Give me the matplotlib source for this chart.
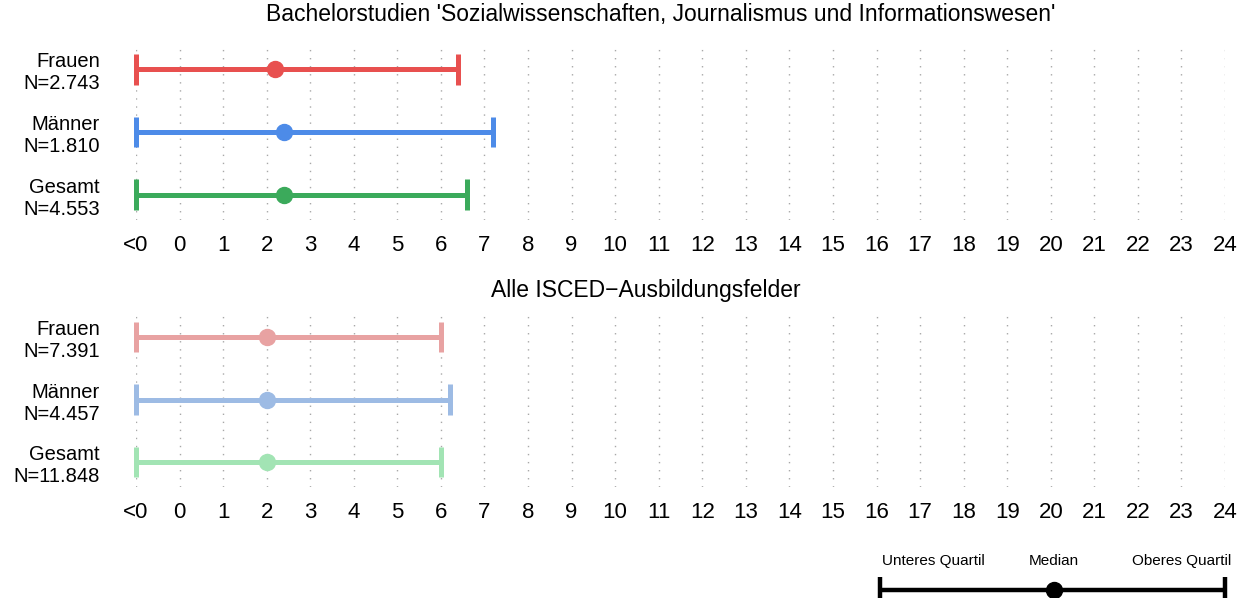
import matplotlib.pyplot as plt

plt.rcParams['font.family'] = ['Liberation Sans', 'DejaVu Sans']

# data: lower quartile, median, upper quartile (-1 stands for "<0")
groups = ['Frauen', 'Männer', 'Gesamt']
n_fach = ['2.743', '1.810', '4.553']
n_alle = ['7.391', '4.457', '11.848']
lower_fach = [-1, -1, -1]
median_fach = [2.2, 2.4, 2.4]
upper_fach = [6.4, 7.2, 6.6]
lower_alle = [-1, -1, -1]
median_alle = [2.0, 2.0, 2.0]
upper_alle = [6.0, 6.2, 6.0]

tick_vals = list(range(-1, 25))
tick_labels = ['<0'] + [str(i) for i in range(0, 25)]

colors_fach = ['#E8504F', '#4D8BE8', '#3BAA5B']
colors_alle = ['#E8A2A2', '#9DBBE4', '#A2E4B4']

W, H = 1250, 598
fig = plt.figure(figsize=(W / 100, H / 100), dpi=100)


def px_axes(left, top, right, bottom):
    return fig.add_axes([left / W, 1 - bottom / H, (right - left) / W, (bottom - top) / H])


def panel(ax, title, title_x, title_y, nlist, lo, med, up, cols):
    ys = [3, 2, 1]
    for y, l, m, u, c in zip(ys, lo, med, up, cols):
        ax.plot([l, u], [y, y], color=c, lw=3.6, solid_capstyle='butt', clip_on=False, zorder=3)
        ax.plot([l, l], [y - 0.245, y + 0.245], color=c, lw=3.6, solid_capstyle='butt', clip_on=False, zorder=3)
        ax.plot([u, u], [y - 0.245, y + 0.245], color=c, lw=3.6, solid_capstyle='butt', clip_on=False, zorder=3)
        ax.plot(m, y, 'o', color=c, ms=11.5, clip_on=False, zorder=4)
    ax.set_xlim(-1, 24)
    ax.set_ylim(0.6, 3.4)
    ax.set_xticks(tick_vals)
    ax.set_xticklabels(tick_labels, fontsize=16)
    ax.set_yticks(ys)
    ax.set_yticklabels([g + '\nN=' + n for g, n in zip(groups, nlist)], fontsize=14.5, linespacing=1.2)
    ax.tick_params(axis='x', length=0, pad=11)
    ax.tick_params(axis='y', length=0, pad=26)
    ax.grid(axis='x', linestyle=(0, (1, 4.8)), color='#a8a8a8', lw=1)
    ax.set_axisbelow(True)
    for s in ax.spines.values():
        s.set_visible(False)
    fig.text(title_x / W, 1 - title_y / H, title, ha='center', va='center', fontsize=16.5)


ax1 = px_axes(136, 44, 1225, 220)
panel(ax1, "Bachelorstudien 'Sozialwissenschaften, Journalismus und Informationswesen'", 661, 15,
      n_fach, lower_fach, median_fach, upper_fach, colors_fach)

ax2 = px_axes(136, 312, 1225, 487)
panel(ax2, 'Alle ISCED\u2212Ausbildungsfelder', 646, 291,
      n_alle, lower_alle, median_alle, upper_alle, colors_alle)

# legend key
axl = px_axes(880, 545, 1225, 598)
axl.set_xlim(0, 1)
axl.set_ylim(0, 1)
axl.axis('off')
ly = 0.15
axl.plot([0, 1], [ly, ly], color='black', lw=3.2, solid_capstyle='butt', clip_on=False)
axl.plot([0, 0], [ly - 0.25, ly + 0.25], color='black', lw=3.2, solid_capstyle='butt', clip_on=False)
axl.plot([1, 1], [ly - 0.25, ly + 0.25], color='black', lw=3.2, solid_capstyle='butt', clip_on=False)
axl.plot(0.504, ly, 'o', color='black', ms=11.5, clip_on=False)
axl.text(0.155, 0.7, 'Unteres Quartil', ha='center', va='center', fontsize=11)
axl.text(0.504, 0.7, 'Median', ha='center', va='center', fontsize=11)
axl.text(0.875, 0.7, 'Oberes Quartil', ha='center', va='center', fontsize=11)

fig.savefig('out.png', dpi=100, facecolor='white')
